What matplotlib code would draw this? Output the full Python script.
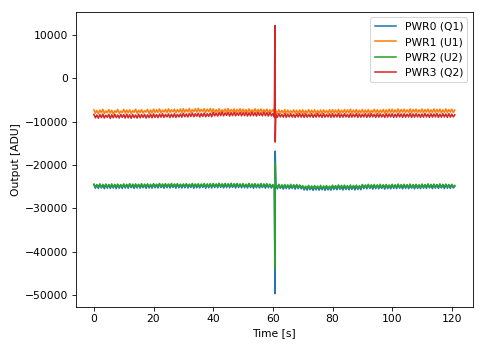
import numpy as np
import matplotlib
matplotlib.use("Agg")
import matplotlib.pyplot as plt

plt.rcParams["font.size"] = 10.3

# sampling grid, 0.5 s, plus the two samples of the glitch near 61 s
time = np.arange(0, 121.5, 0.5)
spike_time = [60.7, 60.8]

labels = ["PWR0 (Q1)", "PWR1 (U1)", "PWR2 (U2)", "PWR3 (Q2)"]

pwr0 = [
    -24550, -25350, -24650, -25400, -24500, -25300, -24700, -25450, -24600, -25350, -24550, -25400, -24700, -25300, -24600, -25450, -24550, -25350, -24650, -25400,
    -24500, -25300, -24600, -25350, -24450, -25250, -24650, -25400, -24550, -25300, -24500, -25350, -24650, -25250, -24550, -25400, -24500, -25300, -24600, -25350,
    -24450, -25250, -24550, -25300, -24400, -25200, -24600, -25350, -24500, -25250, -24450, -25300, -24600, -25200, -24500, -25350, -24450, -25250, -24550, -25300,
    -24500, -25250, -24450, -25300, -24550, -25200, -24450, -25350, -24500, -25250, -24600, -25300, -24450, -25200, -24550, -25350, -24500, -25250, -24450, -25300,
    -24400, -25200, -24500, -25250, -24350, -25150, -24550, -25300, -24450, -25200, -24400, -25250, -24550, -25150, -24450, -25300, -24400, -25200, -24500, -25250,
    -24450, -25250, -24550, -25300, -24400, -25200, -24600, -25350, -24500, -25250, -24450, -25300, -24600, -25200, -24500, -25350, -24450, -25250, -24550, -25300,
    -24650, -25450, -24750, -25500, -24600, -25400, -24800, -25550, -24700, -25450, -24650, -25500, -24800, -25400, -24700, -25550, -24650, -25450, -24750, -25500,
    -24950, -25750, -25050, -25800, -24900, -25700, -25100, -25850, -25000, -25750, -24950, -25800, -25100, -25700, -25000, -25850, -24950, -25750, -25050, -25800,
    -24850, -25650, -24950, -25700, -24800, -25600, -25000, -25750, -24900, -25650, -24850, -25700, -25000, -25600, -24900, -25750, -24850, -25650, -24950, -25700,
    -24650, -25450, -24750, -25500, -24600, -25400, -24800, -25550, -24700, -25450, -24650, -25500, -24800, -25400, -24700, -25550, -24650, -25450, -24750, -25500,
    -24600, -25400, -24700, -25450, -24550, -25350, -24750, -25500, -24650, -25400, -24600, -25450, -24750, -25350, -24650, -25500, -24600, -25400, -24700, -25450,
    -24550, -25350, -24650, -25400, -24500, -25300, -24700, -25450, -24600, -25350, -24550, -25400, -24700, -25300, -24600, -25450, -24550, -25350, -24650, -25400,
    -24600, -25300, -24900,
]
pwr0_spike = [-49700, -16800]

pwr1 = [
    -7250, -8050, -7400, -8150, -7300, -7900, -7150, -8100, -7500, -7950, -7200, -8000, -7350, -8200, -7450, -7850, -7180, -8080, -7550, -7900,
    -7150, -8000, -7300, -7950, -7250, -8100, -7400, -7850, -7100, -8050, -7350, -7900, -7200, -8000, -7450, -7800, -7150, -8100, -7300, -7950,
    -7100, -7900, -7250, -7850, -7050, -7950, -7300, -7800, -7150, -7900, -7000, -7850, -7250, -7750, -7100, -7950, -7200, -7800, -7050, -7900,
    -7000, -7800, -7150, -7750, -6950, -7850, -7200, -7700, -7000, -7800, -6900, -7750, -7150, -7650, -7000, -7850, -7100, -7700, -6950, -7800,
    -7050, -7850, -7200, -7800, -7000, -7900, -7250, -7750, -7050, -7850, -6950, -7800, -7200, -7700, -7050, -7900, -7150, -7750, -7000, -7850,
    -7100, -7800, -7200, -7900, -7050, -7850, -7250, -7750, -7000, -7900, -7150, -7800, -7050, -7850, -7200, -7750, -7100, -7900, -7250, -7800,
    -7200, -8000, -7350, -8100, -7250, -8050, -7400, -7950, -7200, -8100, -7300, -8000, -7450, -7950, -7250, -8050, -7350, -8150, -7300, -8000,
    -7250, -8100, -7400, -8000, -7200, -8050, -7350, -7950, -7250, -8150, -7400, -8000, -7300, -8100, -7250, -7950, -7400, -8050, -7200, -8000,
    -7200, -8000, -7300, -7950, -7150, -8050, -7350, -7900, -7200, -8000, -7250, -7950, -7100, -8050, -7300, -7900, -7200, -8000, -7350, -7950,
    -7150, -8000, -7300, -7900, -7200, -8050, -7350, -7850, -7150, -7950, -7250, -8000, -7300, -7900, -7150, -8050, -7250, -7950, -7100, -7900,
    -7100, -7900, -7250, -7850, -7050, -7950, -7200, -7800, -7100, -7900, -7250, -7850, -7050, -7950, -7150, -7800, -7100, -7900, -7250, -7850,
    -7050, -7900, -7200, -7800, -7100, -7950, -7250, -7850, -7050, -7900, -7150, -7800, -7100, -7950, -7250, -7850, -7050, -7900, -7200, -7800,
    -7100, -7900, -7300,
]
pwr1_spike = [-4600, -9300]

pwr2 = [
    -24400, -25100, -24500, -25050, -24350, -25150, -24450, -25000, -24400, -25100, -24500, -25050, -24350, -25150, -24450, -25000, -24400, -25100, -24500, -25050,
    -24350, -25050, -24450, -25000, -24300, -25100, -24400, -24950, -24350, -25050, -24450, -25000, -24300, -25100, -24400, -24950, -24350, -25050, -24450, -25000,
    -24300, -25000, -24400, -24950, -24250, -25050, -24350, -24900, -24300, -25000, -24400, -24950, -24250, -25050, -24350, -24900, -24300, -25000, -24400, -24950,
    -24350, -24950, -24300, -25000, -24400, -24900, -24250, -25050, -24350, -24950, -24300, -25000, -24400, -24900, -24250, -25050, -24350, -24950, -24300, -25000,
    -24250, -24950, -24350, -24900, -24200, -25000, -24300, -24850, -24250, -24950, -24350, -24900, -24200, -25000, -24300, -24850, -24250, -24950, -24350, -24900,
    -24300, -25000, -24400, -24950, -24250, -25050, -24350, -24900, -24300, -25000, -24400, -24950, -24250, -25050, -24350, -24900, -24300, -25000, -24400, -24950,
    -24500, -25200, -24600, -25150, -24450, -25250, -24550, -25100, -24500, -25200, -24600, -25150, -24450, -25250, -24550, -25100, -24500, -25200, -24600, -25150,
    -24750, -25450, -24850, -25400, -24700, -25500, -24800, -25350, -24750, -25450, -24850, -25400, -24700, -25500, -24800, -25350, -24750, -25450, -24850, -25400,
    -24650, -25350, -24750, -25300, -24600, -25400, -24700, -25250, -24650, -25350, -24750, -25300, -24600, -25400, -24700, -25250, -24650, -25350, -24750, -25300,
    -24500, -25200, -24600, -25150, -24450, -25250, -24550, -25100, -24500, -25200, -24600, -25150, -24450, -25250, -24550, -25100, -24500, -25200, -24600, -25150,
    -24450, -25150, -24550, -25100, -24400, -25200, -24500, -25050, -24450, -25150, -24550, -25100, -24400, -25200, -24500, -25050, -24450, -25150, -24550, -25100,
    -24400, -25100, -24500, -25050, -24350, -25150, -24450, -25000, -24400, -25100, -24500, -25050, -24350, -25150, -24450, -25000, -24400, -25100, -24500, -25050,
    -24450, -25050, -24700,
]
pwr2_spike = [-43800, -19600]

pwr3 = [
    -8300, -9100, -8450, -9200, -8350, -9050, -8250, -9150, -8500, -9000, -8300, -9250, -8400, -9100, -8250, -9050, -8450, -9150, -8300, -9000,
    -8350, -9150, -8250, -9100, -8400, -9200, -8300, -9050, -8450, -9150, -8250, -9100, -8350, -9000, -8300, -9150, -8400, -9050, -8250, -9100,
    -8200, -9000, -8350, -9050, -8250, -8950, -8150, -9000, -8300, -8900, -8200, -9050, -8250, -8950, -8150, -9000, -8300, -8900, -8200, -8950,
    -8050, -8850, -8200, -8900, -8100, -8800, -8000, -8850, -8150, -8750, -8050, -8900, -8100, -8800, -8000, -8850, -8150, -8750, -8050, -8850,
    -7850, -8650, -8000, -8700, -7900, -8600, -7800, -8650, -7950, -8550, -7850, -8700, -7900, -8600, -7800, -8650, -7950, -8550, -7850, -8650,
    -7900, -8600, -7850, -8700, -7950, -8650, -7800, -8600, -7900, -8700, -7850, -8550, -7950, -8650, -7800, -8600, -7900, -8700, -7850, -8650,
    -8150, -8950, -8250, -9000, -8150, -8900, -8300, -8950, -8100, -9000, -8250, -8900, -8150, -8950, -8300, -9000, -8200, -8900, -8150, -8950,
    -8200, -9000, -8150, -8950, -8300, -8900, -8150, -9000, -8250, -8950, -8100, -8900, -8250, -9000, -8150, -8950, -8300, -8900, -8200, -9000,
    -8150, -8950, -8250, -8900, -8100, -9000, -8250, -8950, -8150, -8900, -8300, -9000, -8150, -8950, -8250, -8900, -8100, -9000, -8200, -8950,
    -8250, -8900, -8150, -9000, -8200, -8950, -8100, -8900, -8250, -9000, -8150, -8950, -8200, -8900, -8300, -9000, -8150, -8950, -8200, -8900,
    -8150, -9000, -8250, -8950, -8100, -8900, -8200, -9000, -8150, -8950, -8250, -8900, -8100, -9000, -8200, -8950, -8150, -8900, -8250, -9000,
    -8200, -8950, -8100, -8900, -8250, -9000, -8150, -8950, -8200, -8900, -8100, -9000, -8250, -8950, -8150, -8900, -8200, -9000, -8150, -8950,
    -8250, -8900, -8400,
]
pwr3_spike = [12200, -14700]


def with_spike(values, spike):
    i = np.searchsorted(time, spike_time[0])
    return np.insert(np.asarray(values, dtype=float), i, spike)


t = with_spike(time, spike_time)

fig, ax = plt.subplots(figsize=(6.44, 4.627), dpi=75)
fig.subplots_adjust(left=0.157, right=0.979, bottom=0.115, top=0.965)

series = [(pwr0, pwr0_spike), (pwr1, pwr1_spike), (pwr2, pwr2_spike), (pwr3, pwr3_spike)]
for (vals, spike), label in zip(series, labels):
    ax.plot(t, with_spike(vals, spike), label=label)

ax.set_xlabel("Time [s]")
ax.set_ylabel("Output [ADU]")
ax.legend(loc="upper right")

fig.savefig("out.png", dpi=75)
